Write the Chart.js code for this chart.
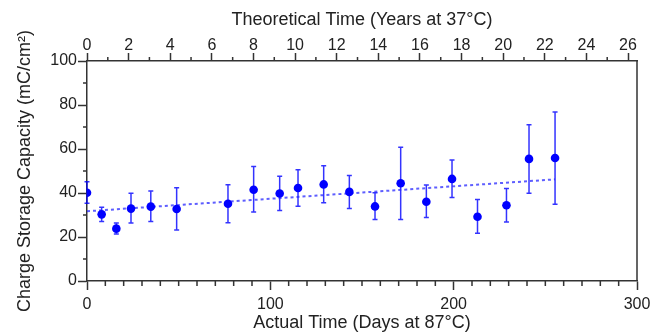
<!DOCTYPE html>
<html><head><meta charset="utf-8">
<script src="https://cdn.jsdelivr.net/npm/chart.js@4/dist/chart.umd.min.js"></script>
<style>html,body{margin:0;padding:0;background:#fff}#wrap{width:652px;height:334px}</style>
</head><body><div id="wrap"><canvas id="c"></canvas></div>
<script>
const days = [0, 8, 16, 24, 34.8, 48.9, 76.9, 90.9, 105.1, 115.1, 129.1, 143.1, 157.1, 171.1, 185.1, 199.1, 213, 228.8, 241.1, 255.3];
const capacity = [40.1, 30.3, 23.8, 32.9, 33.8, 32.7, 35.1, 41.5, 39.8, 42.3, 43.9, 40.5, 33.9, 44.4, 36.0, 46.4, 29.2, 34.4, 55.5, 55.9];
const errHigh = [45.1, 33.5, 26.4, 39.9, 40.9, 42.4, 43.8, 52.0, 47.6, 50.6, 52.4, 47.9, 40.1, 60.8, 43.6, 55.0, 37.0, 42.0, 71.0, 76.8];
const errLow = [35.3, 27.1, 21.4, 26.4, 27.1, 23.2, 26.5, 31.4, 32.0, 34.0, 35.6, 32.9, 28.0, 28.0, 28.9, 37.9, 21.7, 26.8, 39.9, 34.9];
const trendX = [0, 255.3];
const trendY = [31.7, 46.2];
const xTicksMajor = [0, 100, 200, 300];
const yTicksMajor = [0, 20, 40, 60, 80, 100];
const yearTicks = [0, 2, 4, 6, 8, 10, 12, 14, 16, 18, 20, 22, 24, 26];
const daysPerYear = 11.35;

const AXIS = '#333';
const TXT = '#222';
const FONT = 'Liberation Sans, Arial, sans-serif';

const extras = {
  id: 'extras',
  beforeDatasetsDraw(chart) {
    const ctx = chart.ctx, x = chart.scales.x, y = chart.scales.y;
    ctx.save();
    ctx.strokeStyle = 'rgba(0,0,255,0.8)';
    ctx.lineWidth = 1.5;
    for (let i = 0; i < days.length; i++) {
      const px = x.getPixelForValue(days[i]);
      const yt = y.getPixelForValue(errHigh[i]);
      const yb = y.getPixelForValue(errLow[i]);
      ctx.beginPath();
      ctx.moveTo(px, yt); ctx.lineTo(px, yb);
      ctx.moveTo(px - 2.5, yt); ctx.lineTo(px + 2.5, yt);
      ctx.moveTo(px - 2.5, yb); ctx.lineTo(px + 2.5, yb);
      ctx.stroke();
    }
    ctx.restore();
  },
  afterDraw(chart) {
    const ctx = chart.ctx, a = chart.chartArea;
    const x = chart.scales.x, y = chart.scales.y, x2 = chart.scales.x2;
    ctx.save();
    ctx.strokeStyle = AXIS;
    ctx.lineWidth = 1.5;
    ctx.beginPath();
    ctx.moveTo(a.right, a.top); ctx.lineTo(a.right, a.bottom);
    for (let v = 10; v < 300; v += 10) {
      if (v % 100 === 0) continue;
      const p = x.getPixelForValue(v);
      ctx.moveTo(p, a.bottom); ctx.lineTo(p, a.bottom + 5);
    }
    for (let v = 10; v < 100; v += 20) {
      const p = y.getPixelForValue(v);
      ctx.moveTo(a.left, p); ctx.lineTo(a.left - 4, p);
    }
    for (let v = 1; v < 26; v += 2) {
      const p = x2.getPixelForValue(v);
      ctx.moveTo(p, a.top); ctx.lineTo(p, a.top - 4);
    }
    ctx.stroke();
    ctx.restore();
  }
};

function fitH(h) {
  return s => { s.height = h; s.paddingLeft = 0; s.paddingRight = 0; };
}

new Chart(document.getElementById('c'), {
  type: 'scatter',
  data: {
    datasets: [
      {
        data: days.map((d, i) => ({x: d, y: capacity[i]})),
        backgroundColor: '#0000ff', borderColor: '#0000ff',
        pointRadius: 4.3, pointBorderWidth: 0, showLine: false
      },
      {
        type: 'line',
        data: trendX.map((d, i) => ({x: d, y: trendY[i]})),
        borderColor: 'rgba(40,40,255,0.75)', borderWidth: 2, borderDash: [3, 3],
        pointRadius: 0, fill: false
      }
    ]
  },
  options: {
    responsive: true, maintainAspectRatio: false, animation: false,
    layout: {padding: {left: 0, right: 15, top: 0, bottom: 0}},
    plugins: {legend: {display: false}, tooltip: {enabled: false}},
    scales: {
      x: {
        type: 'linear', position: 'bottom', min: 0, max: 300,
        afterBuildTicks: s => { s.ticks = xTicksMajor.map(v => ({value: v})); },
        afterFit: fitH(53),
        grid: {drawOnChartArea: false, tickLength: 9, tickColor: AXIS, tickWidth: 1.5},
        border: {color: AXIS, width: 1.5},
        ticks: {color: TXT, font: {family: FONT, size: 16}, padding: 5, maxRotation: 0},
        title: {display: true, text: 'Actual Time (Days at 87°C)', color: TXT,
                font: {family: FONT, size: 18}, padding: {top: 0, bottom: 0}}
      },
      x2: {
        type: 'linear', position: 'top', min: 0, max: 300 / daysPerYear,
        afterBuildTicks: s => { s.ticks = yearTicks.map(v => ({value: v})); },
        afterFit: fitH(61),
        grid: {drawOnChartArea: false, tickLength: 8, tickColor: AXIS, tickWidth: 1.5},
        border: {color: AXIS, width: 1.5},
        ticks: {color: TXT, font: {family: FONT, size: 16}, padding: -2, maxRotation: 0},
        title: {display: true, text: 'Theoretical Time (Years at 37°C)', color: TXT,
                font: {family: FONT, size: 18}, padding: {top: 9, bottom: 0}}
      },
      y: {
        type: 'linear', position: 'left', min: 0, max: 100,
        afterBuildTicks: s => { s.ticks = yTicksMajor.map(v => ({value: v})); },
        afterFit: s => { s.width = 87; },
        grid: {drawOnChartArea: false, tickLength: 9, tickColor: AXIS, tickWidth: 1.5},
        border: {color: AXIS, width: 1.5},
        ticks: {color: TXT, font: {family: FONT, size: 16}, padding: 1},
        title: {display: true, text: 'Charge Storage Capacity (mC/cm²)', color: TXT,
                font: {family: FONT, size: 18}, padding: {top: 14, bottom: 0}}
      }
    }
  },
  plugins: [extras]
});
</script></body></html>
